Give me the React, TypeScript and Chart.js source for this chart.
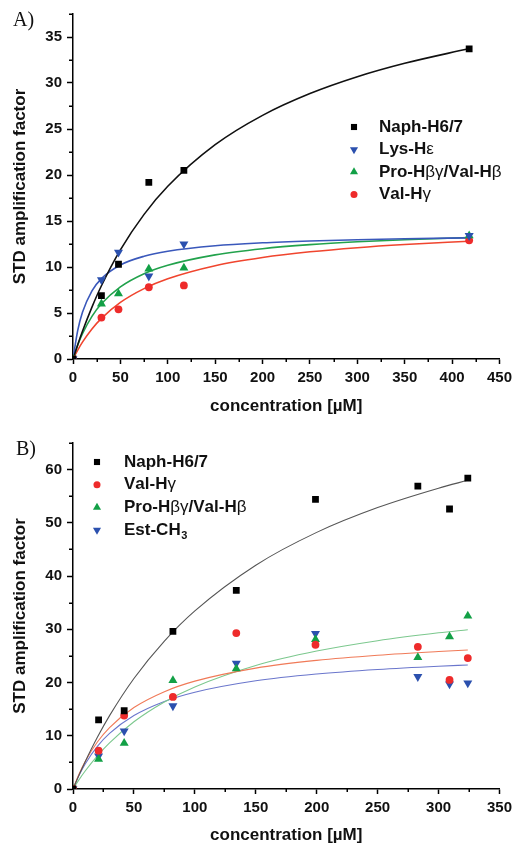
import React, { useEffect, useRef } from 'react';
import { Chart, registerables } from 'chart.js';
import { drawPoint } from 'chart.js/helpers';

Chart.register(...registerables);

const FONT = "'Liberation Sans', Arial, Helvetica, sans-serif";

// ---------- Panel A ----------
const concA = [0, 30, 48, 80, 117, 418];
const naphA = [0, 6.9, 10.3, 19.2, 20.5, 33.7];
const lysA = [0, 8.6, 11.6, 9.0, 12.5, 13.4];
const proA = [0, 6.0, 7.1, 9.8, 9.9, 13.4];
const valA = [0, 4.5, 5.4, 7.8, 8.0, 12.9];

const fitXA = [0, 5, 10, 20, 30, 50, 75, 100, 150, 200, 250, 300, 350, 418];
const naphFitA = [0, 1.56, 3.01, 5.64, 7.96, 11.86, 15.72, 18.77, 23.29, 26.48, 28.85, 30.68, 32.14, 33.74];
const lysFitA = [0, 3.11, 5.07, 7.41, 8.74, 10.22, 11.17, 11.71, 12.31, 12.63, 12.83, 12.97, 13.07, 13.17];
const proFitA = [0, 1.52, 2.76, 4.64, 6.0, 7.84, 9.27, 10.19, 11.32, 11.99, 12.43, 12.74, 12.97, 13.21];
const valFitA = [0, 0.97, 1.83, 3.26, 4.41, 6.15, 7.65, 8.72, 10.14, 11.03, 11.65, 12.1, 12.44, 12.8];

const labelsA = ['Naph-H6/7', 'Lys-Hε', 'Pro-Hβγ/Val-Hβ', 'Val-Hγ'];
const xTicksA = [0, 50, 100, 150, 200, 250, 300, 350, 400, 450];
const xMinorA = [25, 75, 125, 175, 225, 275, 325, 375, 425];
const yTicksA = [0, 5, 10, 15, 20, 25, 30, 35];
const yMinorA = [2.5, 7.5, 12.5, 17.5, 22.5, 27.5, 32.5, 37.5];

// ---------- Panel B ----------
const concB = [0, 21, 42, 82, 134, 199, 283, 309, 324];
const naphB = [0, 13.0, 14.7, 29.6, 37.3, 54.4, 56.9, 52.6, 58.4];
const valB = [0, 7.2, 13.8, 17.3, 29.3, 27.1, 26.7, 20.5, 24.6];
const proB = [0, 5.6, 8.6, 20.4, 22.6, 28.1, 24.7, 28.6, 32.5];
const estB = [0, 6.2, 10.9, 15.6, 23.6, 29.2, 21.1, 19.7, 19.9];

const fitXB = [0, 5, 10, 20, 30, 50, 75, 100, 150, 200, 250, 300, 324];
const naphFitB = [0, 2.65, 5.14, 9.71, 13.78, 20.76, 27.79, 33.46, 42.04, 48.21, 52.87, 56.51, 57.99];
const valFitB = [0, 2.83, 5.17, 8.82, 11.54, 15.3, 18.28, 20.26, 22.71, 24.17, 25.14, 25.83, 26.1];
const proFitB = [0, 1.77, 3.38, 6.23, 8.67, 12.63, 16.35, 19.18, 23.2, 25.91, 27.86, 29.34, 29.93];
const estFitB = [0, 2.58, 4.71, 8.0, 10.44, 13.79, 16.44, 18.18, 20.33, 21.61, 22.46, 23.07, 23.3];

const labelsB = ['Naph-H6/7', 'Val-Hγ', 'Pro-Hβγ/Val-Hβ', 'Est-CH₃'];
const xTicksB = [0, 50, 100, 150, 200, 250, 300, 350];
const xMinorB = [25, 75, 125, 175, 225, 275, 325];
const yTicksB = [0, 10, 20, 30, 40, 50, 60];
const yMinorB = [5, 15, 25, 35, 45, 55, 65];

const pts = (xs: number[], ys: number[]) => xs.map((x, i) => ({ x, y: ys[i] }));

type Marker = { style: string; radius: number; rotation: number; color: string };
const SQUARE = (c: string): Marker => ({ style: 'rect', radius: 4.8, rotation: 0, color: c });
const CIRCLE = (c: string): Marker => ({ style: 'circle', radius: 3.9, rotation: 0, color: c });
const UP = (c: string): Marker => ({ style: 'triangle', radius: 5.2, rotation: 0, color: c });
const DOWN = (c: string): Marker => ({ style: 'triangle', radius: 5.2, rotation: 180, color: c });

const scatterDs = (label: string, xs: number[], ys: number[], m: Marker) => ({
  label,
  data: pts(xs, ys),
  showLine: false,
  pointStyle: m.style,
  pointRadius: m.radius,
  pointRotation: m.rotation,
  pointBorderWidth: 0,
  backgroundColor: m.color,
  borderColor: m.color,
  pointBackgroundColor: m.color,
});

const fitDs = (label: string, xs: number[], ys: number[], color: string, width: number) => ({
  label,
  fit: true,
  data: pts(xs, ys),
  showLine: true,
  pointRadius: 0,
  borderColor: color,
  borderWidth: width,
  cubicInterpolationMode: 'monotone',
  fill: false,
});

const isGreek = (ch: string) => /[\u0370-\u03FF]/.test(ch);

const legendPlugin = {
  id: 'panelLegend',
  afterDatasetsDraw(chart: any, _args: any, opts: any) {
    if (!opts || !opts.items) return;
    const ctx = chart.ctx as CanvasRenderingContext2D;
    ctx.save();
    opts.items.forEach((it: { label: string; marker: Marker }, i: number) => {
      const y = opts.y + i * opts.dy;
      ctx.fillStyle = it.marker.color;
      drawPoint(ctx, { pointStyle: it.marker.style, radius: it.marker.radius * 0.9, rotation: it.marker.rotation, borderWidth: 0 } as any, opts.markerX, y);
      ctx.fillStyle = '#111';
      ctx.textBaseline = 'middle';
      ctx.textAlign = 'left';
      let x = opts.textX;
      for (const ch of Array.from(it.label)) {
        if (ch === '₃') {
          ctx.font = `bold 11px ${FONT}`;
          ctx.fillText('3', x + 0.5, y + 6);
          x += ctx.measureText('3').width + 0.5;
          continue;
        }
        ctx.font = isGreek(ch) ? `17px ${FONT}` : `bold 17px ${FONT}`;
        ctx.fillText(ch, x, y);
        x += ctx.measureText(ch).width;
      }
    });
    ctx.restore();
  },
};

const minorTickPlugin = {
  id: 'minorTicks',
  afterDraw(chart: any, _args: any, opts: any) {
    if (!opts || !opts.x) return;
    const ctx = chart.ctx as CanvasRenderingContext2D;
    const xs = chart.scales.x;
    const ys = chart.scales.y;
    const area = chart.chartArea;
    ctx.save();
    ctx.strokeStyle = '#000';
    ctx.lineWidth = 1.5;
    ctx.beginPath();
    opts.x.forEach((v: number) => {
      const px = Math.round(xs.getPixelForValue(v)) + 0.25;
      ctx.moveTo(px, area.bottom);
      ctx.lineTo(px, area.bottom + opts.xLen);
    });
    opts.y.forEach((v: number) => {
      const py = Math.round(ys.getPixelForValue(v)) + 0.25;
      ctx.moveTo(area.left, py);
      ctx.lineTo(area.left - opts.yLen, py);
    });
    ctx.stroke();
    ctx.restore();
  },
};

type Panel = {
  datasets: any[];
  xMax: number;
  yMax: number;
  xTicks: number[];
  yTicks: number[];
  xMinor: number[];
  yMinor: number[];
  legend: any;
  padTop: number;
  padRight: number;
  xHeight: number;
  titleBottom: number;
};

function makeConfig(p: Panel): any {
  const tickFont = { family: FONT, size: 15, weight: 'bold' as const };
  const titleFont = { family: FONT, size: 17, weight: 'bold' as const, lineHeight: 1 };
  return {
    type: 'scatter',
    data: { datasets: p.datasets },
    options: {
      animation: false,
      responsive: false,
      events: [],
      layout: { padding: { top: p.padTop, right: p.padRight, left: 0, bottom: 0 } },
      plugins: {
        legend: { display: false },
        tooltip: { enabled: false },
        panelLegend: p.legend,
        minorTicks: { x: p.xMinor, y: p.yMinor, xLen: 3, yLen: 4 },
      },
      scales: {
        x: {
          type: 'linear',
          position: 'bottom',
          min: 0,
          max: p.xMax,
          afterBuildTicks: (s: any) => {
            s.ticks = p.xTicks.map((v) => ({ value: v }));
          },
          afterFit: (s: any) => {
            s.height = p.xHeight;
          },
          ticks: { font: tickFont, color: '#111', padding: 5, maxRotation: 0, autoSkip: false },
          grid: { display: true, drawOnChartArea: false, drawTicks: true, tickLength: 5, tickWidth: 1.5, tickColor: '#000' },
          border: { display: true, color: '#000', width: 1.5 },
          title: { display: true, text: 'concentration [µM]', font: titleFont, color: '#111', padding: { top: 0, bottom: p.titleBottom } },
        },
        y: {
          type: 'linear',
          position: 'left',
          min: 0,
          max: p.yMax,
          afterBuildTicks: (s: any) => {
            s.ticks = p.yTicks.map((v) => ({ value: v }));
          },
          afterFit: (s: any) => {
            s.width = 73;
          },
          ticks: { font: tickFont, color: '#111', padding: 5 },
          grid: { display: true, drawOnChartArea: false, drawTicks: true, tickLength: 6, tickWidth: 1.5, tickColor: '#000' },
          border: { display: true, color: '#000', width: 1.5 },
          title: { display: true, text: 'STD amplification factor', font: titleFont, color: '#111', padding: { top: 11.5, bottom: 0 } },
        },
      },
    },
    plugins: [legendPlugin, minorTickPlugin],
  };
}

const BLACK = '#000000';
const BLUE = '#2b50ae';
const GREEN = '#12a046';
const RED = '#ee2b2b';

const mA = [SQUARE(BLACK), DOWN(BLUE), UP(GREEN), CIRCLE(RED)];
const mB = [SQUARE(BLACK), CIRCLE(RED), UP(GREEN), DOWN(BLUE)];

const panelA: Panel = {
  datasets: [
    scatterDs(labelsA[0], concA, naphA, mA[0]),
    scatterDs(labelsA[1], concA, lysA, mA[1]),
    scatterDs(labelsA[2], concA, proA, mA[2]),
    scatterDs(labelsA[3], concA, valA, mA[3]),
    fitDs('fit ' + labelsA[0], fitXA, naphFitA, '#111111', 1.6),
    fitDs('fit ' + labelsA[1], fitXA, lysFitA, '#3a58bb', 1.6),
    fitDs('fit ' + labelsA[2], fitXA, proFitA, '#22a24c', 1.6),
    fitDs('fit ' + labelsA[3], fitXA, valFitA, '#f0452e', 1.6),
  ],
  xMax: 450,
  yMax: 37.5,
  xTicks: xTicksA,
  yTicks: yTicksA,
  xMinor: xMinorA,
  yMinor: yMinorA,
  legend: {
    markerX: 354,
    textX: 379,
    y: 127,
    dy: 22.5,
    items: labelsA.map((label, i) => ({ label, marker: mA[i] })),
  },
  padTop: 13,
  padRight: 17,
  xHeight: 61,
  titleBottom: 5.5,
};

const panelB: Panel = {
  datasets: [
    scatterDs(labelsB[0], concB, naphB, mB[0]),
    scatterDs(labelsB[1], concB, valB, mB[1]),
    scatterDs(labelsB[2], concB, proB, mB[2]),
    scatterDs(labelsB[3], concB, estB, mB[3]),
    fitDs('fit ' + labelsB[0], fitXB, naphFitB, '#555555', 1.1),
    fitDs('fit ' + labelsB[1], fitXB, valFitB, '#f07a58', 1.1),
    fitDs('fit ' + labelsB[2], fitXB, proFitB, '#7cc88e', 1.1),
    fitDs('fit ' + labelsB[3], fitXB, estFitB, '#6a76cc', 1.1),
  ],
  xMax: 350,
  yMax: 65,
  xTicks: xTicksB,
  yTicks: yTicksB,
  xMinor: xMinorB,
  yMinor: yMinorB,
  legend: {
    markerX: 97,
    textX: 124,
    y: 42,
    dy: 22.7,
    items: labelsB.map((label, i) => ({ label, marker: mB[i] })),
  },
  padTop: 23,
  padRight: 14,
  xHeight: 55,
  titleBottom: 0,
};

function PanelChart({ panel, top, height }: { panel: Panel; top: number; height: number }) {
  const ref = useRef<HTMLCanvasElement | null>(null);
  useEffect(() => {
    if (!ref.current) return;
    const chart = new Chart(ref.current, makeConfig(panel));
    return () => chart.destroy();
  }, [panel]);
  return (
    <canvas
      ref={ref}
      width={517}
      height={height}
      style={{ position: 'absolute', left: 0, top, width: 517, height, display: 'block' }}
    />
  );
}

const letterStyle: React.CSSProperties = {
  position: 'absolute',
  fontFamily: "'Liberation Serif', 'Times New Roman', serif",
  fontSize: 20,
  lineHeight: '20px',
  color: '#111',
};

export default function App() {
  return (
    <div style={{ position: 'absolute', left: 0, top: 0, width: 517, height: 844, overflow: 'hidden', background: '#fff' }}>
      <PanelChart panel={panelA} top={0} height={420} />
      <PanelChart panel={panelB} top={420} height={424} />
      <div style={{ ...letterStyle, left: 13, top: 9 }}>A)</div>
      <div style={{ ...letterStyle, left: 16, top: 438 }}>B)</div>
    </div>
  );
}
